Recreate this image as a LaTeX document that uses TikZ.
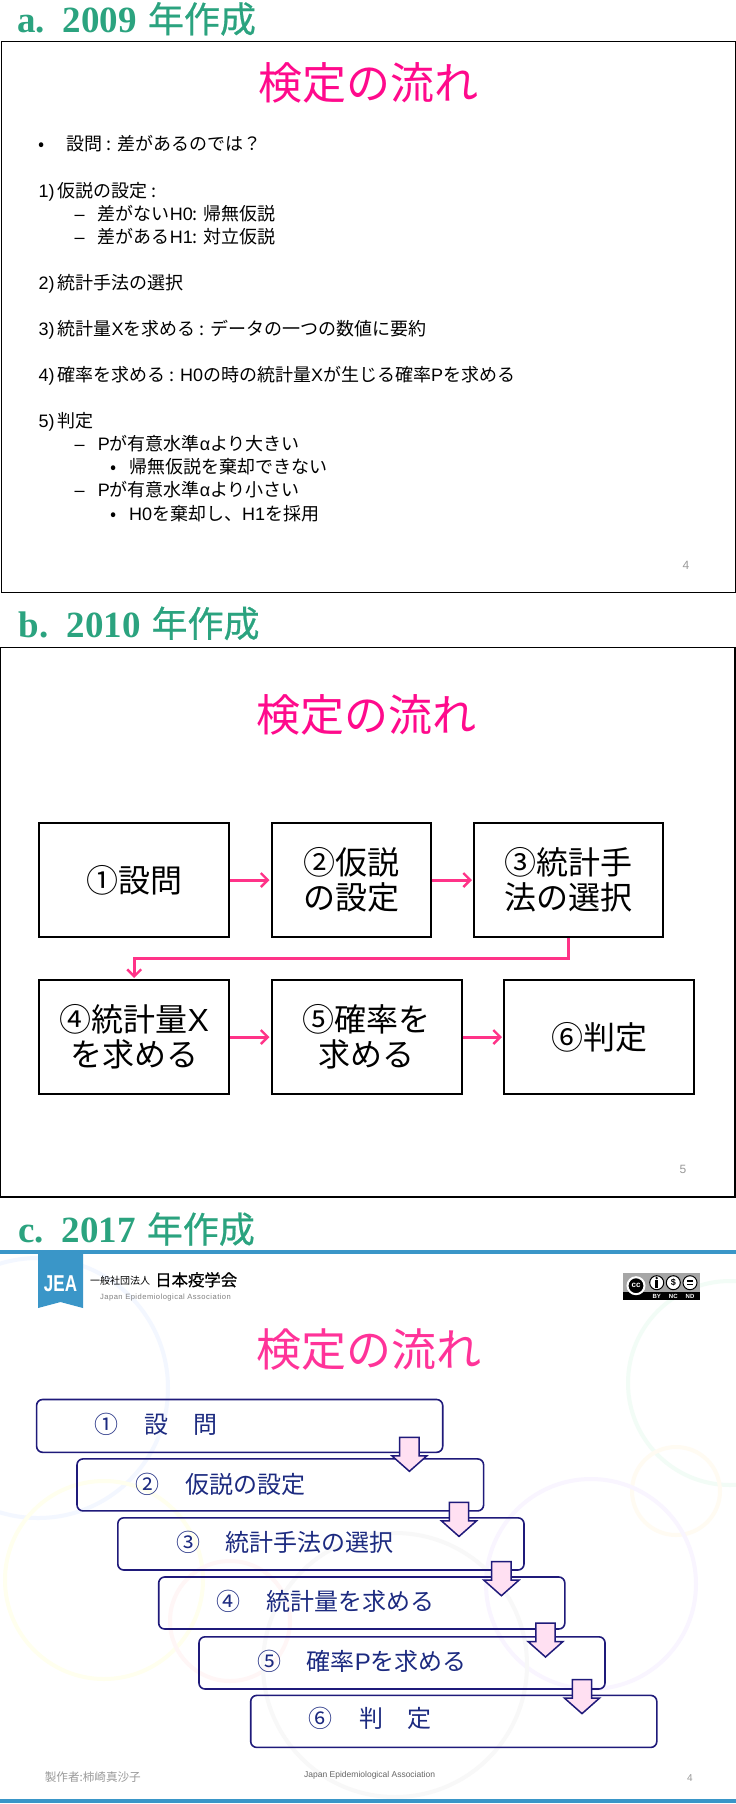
\documentclass[tikz,border=0pt]{standalone}
\usepackage{fontspec}
\usepackage{graphicx}
\usetikzlibrary{arrows.meta}
\setmainfont{Noto Sans CJK JP}
\newfontfamily\lat{Liberation Sans}
\newfontfamily\latsp[LetterSpace=6]{Liberation Sans}
\newfontfamily\latb{Liberation Sans Bold}
\newfontfamily\hser{Liberation Serif Bold}
\newfontfamily\hcjk[FakeBold=0.6]{Noto Sans CJK JP}
\newfontfamily\fullw{Noto Sans CJK JP}
\newcommand{\fs}[1]{\fontsize{#1}{#1}\selectfont}
\definecolor{hgreen}{HTML}{2BA37F}
\definecolor{tpink}{HTML}{FF0A8C}
\definecolor{tpinkc}{HTML}{FF3399}
\definecolor{apink}{HTML}{FF3388}
\definecolor{navy}{HTML}{1F1A7A}
\definecolor{navyt}{HTML}{1C2A80}
\definecolor{afill}{HTML}{FFE0F2}
\definecolor{jea}{HTML}{3A96C8}
\definecolor{pgray}{HTML}{999999}
\definecolor{ringa}{HTML}{F3F7FF}
\definecolor{ringb}{HTML}{F2FCF6}
\definecolor{ringc}{HTML}{FFFBF2}
\definecolor{ringd}{HTML}{FFFFEE}
\definecolor{ringe}{HTML}{FFF6F6}
\definecolor{ringf}{HTML}{F9F5FF}
\definecolor{ringg}{HTML}{F8F8F8}
\newcommand{\heading}[2]{{\color{hgreen}\fs{37}\hser #1\hspace{18pt}#2\hspace{11pt}\fs{36}\hcjk 年作成}}
\tikzset{
  frame/.style={draw=black,line width=1.2pt,fill=white},
  head/.style={anchor=base west,inner sep=0pt},
  title/.style={inner sep=0pt,text=tpink,font=\fs{44}},
  body/.style={anchor=base west,inner sep=0pt,font=\fs{18}},
  pageno/.style={inner sep=0pt,text=pgray,font=\fs{12}\lat},
  fbox/.style={draw=black,line width=2pt,fill=white,inner sep=0pt,align=center,font=\fs{32}\fullw},
  parrow/.style={draw=apink,line width=3pt,-{Straight Barb[length=7pt,width=14pt,line width=2.4pt]},shorten >=1pt},
  stepc/.style={draw=navy,line width=1.6pt,rounded corners=6pt},
  ctext/.style={anchor=base west,inner sep=0pt,text=navyt,font=\fs{24}},
  cnum/.style={anchor=base,inner sep=0pt,text=navyt,font=\fs{24}\fullw},
  blockarrow/.style={draw=navy,line width=1.5pt,fill=afill,line join=miter},
  ring/.style={line width=4pt,draw=#1}
}
\begin{document}
\begin{tikzpicture}[x=1pt,y=-1pt]
\useasboundingbox (0,0) rectangle (736,1804);
\fill[white] (0,0) rectangle (736,1804);

% --- a ---
\node[head] (ha) at (17,32.5) {\heading{a.}{2009}};
\path[frame] (1.5,41.5) rectangle (735.5,592.5);
\node[title] (ta) at (368,83) {検定の流れ};
\node[body] (a0b) at (38,150.5) {•};
\node[body] (a0) at (66.7,150.5) {設問 : 差があるのでは\char"FF1F};
\node[body] (a1) at (38.5,197) {\lat 1)\hspace{3pt}\rmfamily 仮説の設定 :};
\node[body] (a1ad) at (74.5,220) {\lat –};
\node[body] (a1a) at (97.7,220) {差がない\lat H0\rmfamily : 帰無仮説};
\node[body] (a1bd) at (74.5,243) {\lat –};
\node[body] (a1b) at (97.7,243) {差がある\lat H1\rmfamily : 対立仮説};
\node[body] (a2) at (38.5,289) {\lat 2)\hspace{3pt}\rmfamily 統計手法の選択};
\node[body] (a3) at (38.5,335) {\lat 3)\hspace{3pt}\rmfamily 統計量\lat X\rmfamily を求める : データの一つの数値に要約};
\node[body] (a4) at (38.5,381) {\lat 4)\hspace{3pt}\rmfamily 確率を求める : \lat H0\rmfamily の時の統計量\lat X\rmfamily が生じる確率\lat P\rmfamily を求める};
\node[body] (a5) at (38.5,427.5) {\lat 5)\hspace{3pt}\rmfamily 判定};
\node[body] (a5ad) at (74.5,450.5) {\lat –};
\node[body] (a5a) at (97.7,450.5) {\lat P\rmfamily が有意水準\lat α\rmfamily より大きい};
\node[body] (a5ab) at (110,473.5) {•};
\node[body] (a5aa) at (129,473.5) {帰無仮説を棄却できない};
\node[body] (a5bd) at (74.5,496.5) {\lat –};
\node[body] (a5b) at (97.7,496.5) {\lat P\rmfamily が有意水準\lat α\rmfamily より小さい};
\node[body] (a5bb) at (110,520) {•};
\node[body] (a5ba) at (129,520) {\lat H0\rmfamily を棄却し、\lat H1\rmfamily を採用};
\node[pageno] (pa) at (686,565) {4};

% --- b ---
\node[head] (hb) at (18.5,637) {\heading{b.}{2010}};
\path[frame] (0.6,647.5) rectangle (735,1197);
\node[title] (tb) at (366,715) {検定の流れ};
\node[fbox,minimum width=189.6pt,minimum height=113.8pt] (b1) at (134.2,880) {①設問};
\node[fbox,minimum width=159pt,minimum height=113.8pt] (b2) at (351,880) {②仮説\\[3pt]の設定};
\node[fbox,minimum width=189.4pt,minimum height=113.8pt] (b3) at (568.7,880) {③統計手\\[3pt]法の選択};
\node[fbox,minimum width=189.6pt,minimum height=114pt] (b4) at (134.2,1037) {④統計量\lat X\\[3pt]を求める};
\node[fbox,minimum width=190pt,minimum height=114pt] (b5) at (366.5,1037) {⑤確率を\\[3pt]求める};
\node[fbox,minimum width=190pt,minimum height=114pt] (b6) at (599,1037) {⑥判定};
\draw[parrow] (b1) -- (b2);
\draw[parrow] (b2) -- (b3);
\draw[parrow] (b3.south) -- ++(0,21) -| (b4.north);
\draw[parrow] (b4) -- (b5);
\draw[parrow] (b5) -- (b6);
\node[pageno] (pb) at (683,1169) {5};

% --- c ---
\draw[ring=ringa] (38,1388) circle (130);
\draw[ring=ringb] (730,1383) circle (102);
\draw[ring=ringc] (676,1491) circle (44);
\draw[ring=ringd] (104,1580) circle (99);
\draw[ring=ringe] (230,1621) circle (60);
\draw[ring=ringf] (591,1584) circle (105);
\draw[ring=ringg] (395,1665) circle (132);
\node[head] (hc) at (18,1242.7) {\heading{c.}{2017}};
\fill[jea] (0,1250) rectangle (736,1254);
\fill[jea] (0,1799) rectangle (736,1803);
% logo
\fill[jea] (38,1252) -- (83,1252) -- (83,1308) -- (60.5,1302) -- (38,1308) -- cycle;
\node[inner sep=0pt,text=white] (jealogo) at (60.5,1284) {\scalebox{1}[1.35]{\fs{17}\latb JEA}};
\node[anchor=base west,inner sep=0pt,font=\fs{10}] (org1) at (90,1284) {一般社団法人};
\node[anchor=base west,inner sep=0pt,font=\fs{16.4}\hcjk] (org2) at (155,1286) {日本疫学会};
\node[anchor=base west,inner sep=0pt,text=gray,font=\fs{7.6}\latsp] (org3) at (100,1299) {Japan Epidemiological Association};
% cc badge
\fill[black!35] (622.7,1272.7) rectangle (700,1292);
\fill[black] (622.7,1291.7) rectangle (700,1300);
\draw[white,line width=2pt,fill=black] (636,1285.7) circle (8.5);
\node[inner sep=0pt,text=white,font=\fs{8}\latb] (cc) at (636,1285.7) {cc};
\draw[black,line width=1pt,fill=white] (656.7,1282.7) circle (7);
\draw[black,line width=1pt,fill=white] (673.3,1282.7) circle (7);
\draw[black,line width=1pt,fill=white] (690,1282.7) circle (7);
\fill[black] (656.7,1278) circle (1.3);
\fill[black] (655.2,1280) rectangle (658.2,1288);
\node[inner sep=0pt,font=\fs{9}\latb] (ncs) at (673.3,1282.7) {\$};
\fill[black] (686.8,1280.3) rectangle (693.2,1282);
\fill[black] (686.8,1283.6) rectangle (693.2,1285.3);
\node[inner sep=0pt,text=white,font=\fs{6}\latb] (by) at (656.7,1296) {BY};
\node[inner sep=0pt,text=white,font=\fs{6}\latb] (nc) at (673.3,1296) {NC};
\node[inner sep=0pt,text=white,font=\fs{6}\latb] (nd) at (690,1296) {ND};
\node[title,text=tpinkc,font=\fs{45}] (tc) at (369,1349.5) {検定の流れ};
% steps
\path[stepc] (36.6,1399.5) rectangle (442.7,1452.3);
\path[stepc] (77,1458.9) rectangle (483.6,1510.9);
\path[stepc] (117.8,1517.8) rectangle (524,1570);
\path[stepc] (158.7,1577) rectangle (564.8,1629);
\path[stepc] (199,1636.8) rectangle (605,1689);
\path[stepc] (250.7,1695.4) rectangle (656.8,1747.4);
\foreach \cx/\ty in {409.4/1437.3,459/1502.4,501.4/1561.7,545.5/1623,582/1679.6}{
  \path[blockarrow] (\cx-9.7,\ty) -- (\cx+9.7,\ty) -- (\cx+9.7,\ty+18.5) -- (\cx+17.5,\ty+18.5)
    -- (\cx,\ty+34) -- (\cx-17.5,\ty+18.5) -- (\cx-9.7,\ty+18.5) -- cycle;
}
\node[cnum] (n1) at (106.6,1433.5) {①};
\node[ctext] (s1a) at (144.6,1433.5) {設};
\node[ctext] (s1b) at (193.4,1433.5) {問};
\node[cnum] (n2) at (147.4,1493) {②};
\node[ctext] (s2) at (185,1493) {仮説の設定};
\node[cnum] (n3) at (188,1551.5) {③};
\node[ctext] (s3) at (225.4,1551.5) {統計手法の選択};
\node[cnum] (n4) at (228.6,1610.8) {④};
\node[ctext] (s4) at (266,1610.8) {統計量を求める};
\node[cnum] (n5) at (269.5,1670) {⑤};
\node[ctext] (s5) at (306.6,1670) {確率\lat P\rmfamily を求める};
\node[cnum] (n6) at (320.7,1727) {⑥};
\node[ctext] (s6a) at (359,1727) {判};
\node[ctext] (s6b) at (407.5,1727) {定};
\node[anchor=base west,inner sep=0pt,text=pgray,font=\fs{11.6}] (maker) at (44.6,1781) {製作者:柿崎真沙子};
\node[anchor=base west,inner sep=0pt,text=black!60,font=\fs{8.5}\lat] (fj) at (304,1777) {Japan Epidemiological Association};
\node[pageno,font=\fs{10}\lat] (pc) at (690,1778) {4};
\end{tikzpicture}
\end{document}
